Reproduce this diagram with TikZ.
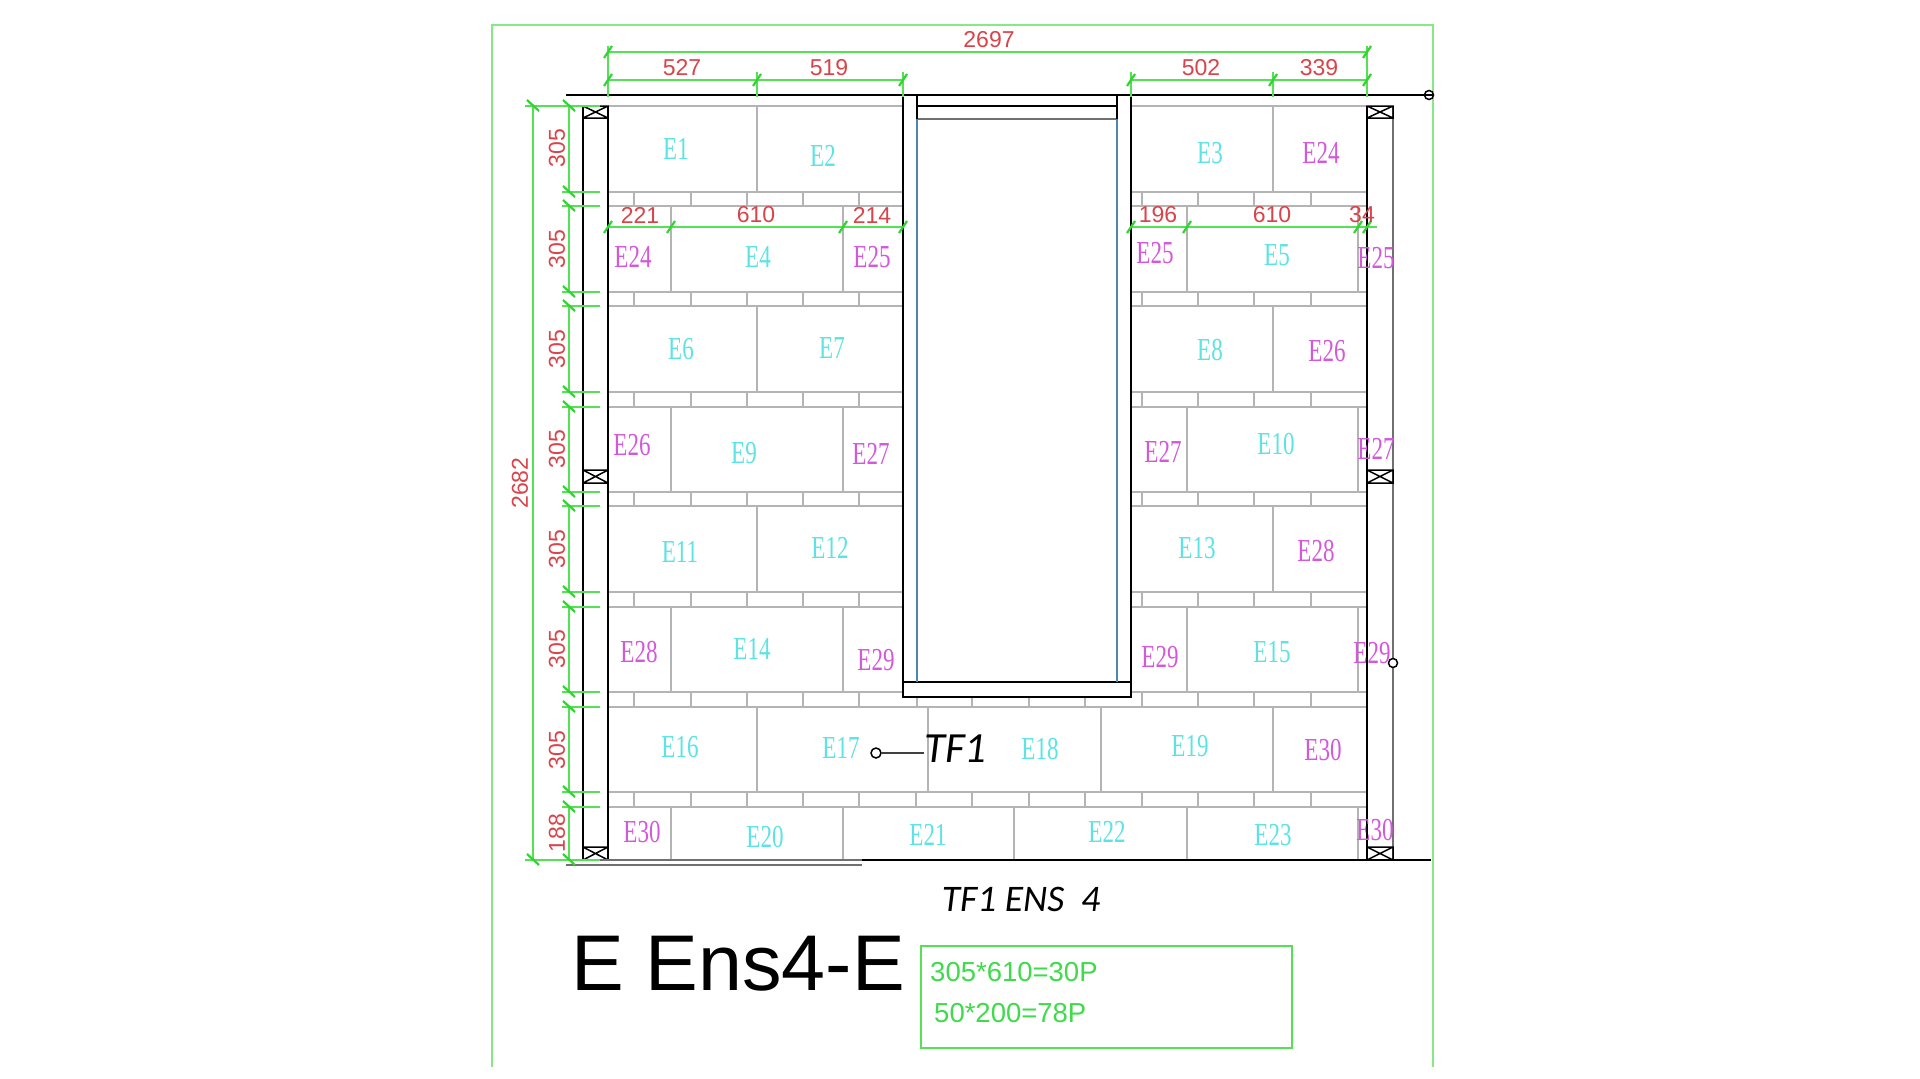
\documentclass[tikz,border=0pt]{standalone}
\usepackage{fontspec}
\setmainfont{Liberation Sans}
\newfontfamily\blockfont[FakeStretch=0.72]{Liberation Serif}
\newfontfamily\noteital{Carlito}
\definecolor{framegreen}{HTML}{86E986}
\definecolor{dimgreen}{HTML}{55E055}
\definecolor{tickgreen}{HTML}{2FD62F}
\definecolor{dimred}{HTML}{D9444A}
\definecolor{joint}{HTML}{B4B4B4}
\definecolor{blockcyan}{HTML}{5CE3E3}
\definecolor{blockmag}{HTML}{D457DC}
\definecolor{doorblue}{HTML}{4F86B0}
\definecolor{wallgrey}{HTML}{707070}
\definecolor{textgreen}{HTML}{3FDB4A}
\tikzset{
  frameline/.style={draw=framegreen,line width=1.8pt},
  jointline/.style={draw=joint,line width=1.2pt},
  wallline/.style={draw=black,line width=1.5pt},
  dimline/.style={draw=dimgreen,line width=1.2pt},
  tickline/.style={draw=tickgreen,line width=2.2pt},
  dimtext/.style={text=dimred,inner sep=0pt,font=\fontsize{23}{24}\selectfont},
  dimtextv/.style={dimtext,rotate=90},
  cyanlabel/.style={text=blockcyan,inner sep=0pt,font=\fontsize{32}{32}\blockfont},
  maglabel/.style={text=blockmag,inner sep=0pt,font=\fontsize{32}{32}\blockfont},
  notetext/.style={text=textgreen,inner sep=0pt,anchor=west,font=\fontsize{27.5}{30}\selectfont},
  ringmark/.style={circle,draw=black,line width=1.5pt,minimum size=9pt,inner sep=0pt,fill=white}
}
\begin{document}
\begin{tikzpicture}[x=1pt,y=-1pt]
\useasboundingbox (0,0) rectangle (1920,1079);
\fill[white] (0,0) rectangle (1920,1079);
% outer frame
\draw[frameline] (492,1067) -- (492,25) -- (1433,25) -- (1433,1067);
% horizontal course lines
\foreach \y in {106,192,206,292,306,392,407,492,506,592,607,692} {
  \draw[jointline] (608,\y) -- (903,\y);
  \draw[jointline] (1131,\y) -- (1367,\y);
}
\foreach \y in {707,792,807} \draw[jointline] (608,\y) -- (1367,\y);
% small-tile joints
\foreach \t/\b in {192/206,292/306,392/407,492/506,592/607} {
  \foreach \x in {634,691,747,803,859,1142,1198,1254,1311} \draw[jointline] (\x,\t) -- (\x,\b);
}
\foreach \x in {634,691,747,803,859,1142,1198,1254,1311} \draw[jointline] (\x,692) -- (\x,707);
\foreach \x in {917,972,1029,1085} \draw[jointline] (\x,697) -- (\x,707);
\foreach \x in {634,691,747,803,859,916,972,1029,1085,1142,1198,1254,1311} \draw[jointline] (\x,792) -- (\x,807);
% large-tile joints
\foreach \t/\b in {106/192,306/392,506/592} \foreach \x in {757,1273} \draw[jointline] (\x,\t) -- (\x,\b);
\foreach \t/\b in {206/292,407/492,607/692} \foreach \x in {671,843,1187,1358} \draw[jointline] (\x,\t) -- (\x,\b);
\foreach \x in {757,928,1101,1273} \draw[jointline] (\x,707) -- (\x,792);
\foreach \x in {671,843,1014,1187,1358} \draw[jointline] (\x,807) -- (\x,860);
% walls
\draw[wallline] (583,106) -- (583,860);
\draw[wallline] (608,106) -- (608,860);
\draw[wallline] (1367,106) -- (1367,860);
\draw[draw=wallgrey,line width=2.4pt] (1393,106) -- (1393,860);
% X braces
\foreach \t/\b in {106/118,470/483,847/860} {
  \draw[wallline] (583,\t) rectangle (608,\b) (583,\t) -- (608,\b) (583,\b) -- (608,\t);
  \draw[wallline] (1367,\t) rectangle (1393,\b) (1367,\t) -- (1393,\b) (1367,\b) -- (1393,\t);
}
% bottom lines
\draw[draw=wallgrey,line width=2pt] (583,860) -- (862,860);
\draw[draw=wallgrey,line width=1.6pt] (566,865) -- (862,865);
\draw[draw=black,line width=2.4pt] (862,860) -- (1431,860);
% door
\draw[wallline] (903,95) -- (903,697) -- (1131,697) -- (1131,95);
\draw[wallline] (903,682) -- (1131,682);
\draw[draw=doorblue,line width=1.8pt] (917,119) -- (917,682);
\draw[draw=doorblue,line width=1.8pt] (1117,119) -- (1117,682);
\draw[draw=black,line width=2pt] (917,106) -- (1117,106);
\draw[draw=wallgrey,line width=1.6pt] (917,119) -- (1117,119);
\draw[wallline] (917,95) -- (917,119);
\draw[wallline] (1117,95) -- (1117,119);
% top line with end ring
\node[ringmark] (ringtop) at (1429,95) {};
\coordinate (walltop) at (566,95);
\draw[wallline] (walltop) -- (ringtop.east);
\node[ringmark] (ringside) at (1393,663) {};
% horizontal dimensions
\draw[dimline] (608,52) -- (1367,52);
\draw[dimline] (608,80) -- (903,80);
\draw[dimline] (1131,80) -- (1367,80);
\draw[dimline] (608,227) -- (903,227);
\draw[dimline] (1131,227) -- (1377,227);
\draw[dimline] (608,46) -- (608,97);
\draw[dimline] (1367,46) -- (1367,97);
\foreach \x in {757,903,1131,1273} \draw[dimline] (\x,72) -- (\x,97);
\foreach \x/\y in {608/52,1367/52,608/80,757/80,903/80,1131/80,1273/80,1367/80,608/227,671/227,843/227,903/227,1131/227,1187/227,1358/227,1367/227}
  \draw[tickline] (\x-4,\y+6) -- (\x+4,\y-6);
% vertical dimensions
\draw[dimline] (533,106) -- (533,860);
\draw[dimline] (525,106) -- (583,106);
\draw[dimline] (525,860) -- (583,860);
\foreach \t/\b in {106/192,206/292,306/392,407/492,506/592,607/692,707/792,807/860} {
  \draw[dimline] (569,\t) -- (569,\b);
  \draw[dimline] (562,\t) -- (600,\t);
  \draw[dimline] (562,\b) -- (600,\b);
  \draw[tickline] (563,\t-6) -- (575,\t+5);
  \draw[tickline] (563,\b-6) -- (575,\b+5);
}
\draw[tickline] (527,100) -- (539,111);
\draw[tickline] (527,854) -- (539,865);
% dimension texts
\node[dimtext] (d1) at (989,40) {2697};
\node[dimtext] (d2) at (682,68) {527};
\node[dimtext] (d3) at (829,68) {519};
\node[dimtext] (d4) at (1201,68) {502};
\node[dimtext] (d5) at (1319,68) {339};
\node[dimtext] (d6) at (640,215) {221};
\node[dimtext] (d7) at (756,215) {610};
\node[dimtext] (d8) at (872,215) {214};
\node[dimtext] (d9) at (1158,215) {196};
\node[dimtext] (d10) at (1272,215) {610};
\node[dimtext] (d11) at (1362,215) {34};
\node[dimtextv] (v0) at (520,483) {2682};
\node[dimtextv] (v1) at (557,148) {305};
\node[dimtextv] (v2) at (557,249) {305};
\node[dimtextv] (v3) at (557,349) {305};
\node[dimtextv] (v4) at (557,449) {305};
\node[dimtextv] (v5) at (557,549) {305};
\node[dimtextv] (v6) at (557,649) {305};
\node[dimtextv] (v7) at (557,750) {305};
\node[dimtextv] (v8) at (557,833) {188};
% tile labels
\foreach \n/\x/\y in {E1/676/149,E2/823/156,E3/1210/153,E4/758/257,E5/1277/255,E6/681/349,E7/832/348,E8/1210/350,E9/744/453,E10/1276/444,E11/680/552,E12/830/548,E13/1197/548,E14/752/649,E15/1272/652,E16/680/747,E17/841/748,E18/1040/749,E19/1190/746,E20/765/837,E21/928/835,E22/1107/832,E23/1273/835}
  \node[cyanlabel] (t\n) at (\x,\y) {\n};
\foreach \i/\n/\x/\y in {a/E24/1321/153,b/E24/633/257,c/E25/872/257,d/E25/1155/253,e/E25/1376/258,f/E26/1327/351,g/E26/632/445,h/E27/871/454,i/E27/1163/452,j/E27/1376/449,k/E28/1316/551,l/E28/639/652,m/E29/876/660,n/E29/1160/657,o/E29/1372/653,p/E30/1323/750,q/E30/642/832,r/E30/1375/830}
  \node[maglabel] (m\i) at (\x,\y) {\n};
% TF1 leader
\node[ringmark,minimum size=10pt] (tfring) at (876,753) {};
\node[inner sep=0pt,anchor=west,font=\fontsize{43}{43}\noteital\itshape] (tfone) at (924,749) {TF1};
\draw[draw=black!75,line width=1.2pt] (tfring) -- (tfring -| tfone.west);
% captions
\node[inner sep=0pt,font=\fontsize{37.5}{38}\noteital\itshape] (cap) at (1021,899) {TF1 ENS\ \ 4};
\node[inner sep=0pt,anchor=west,font=\fontsize{79}{80}\selectfont] (title) at (571,964) {E Ens4-E};
% note box
\draw[draw=dimgreen,line width=1.6pt] (921,946) rectangle (1292,1048);
\node[notetext] (n1) at (930,972) {305*610=30P};
\node[notetext] (n2) at (934,1013) {50*200=78P};
\end{tikzpicture}
\end{document}
